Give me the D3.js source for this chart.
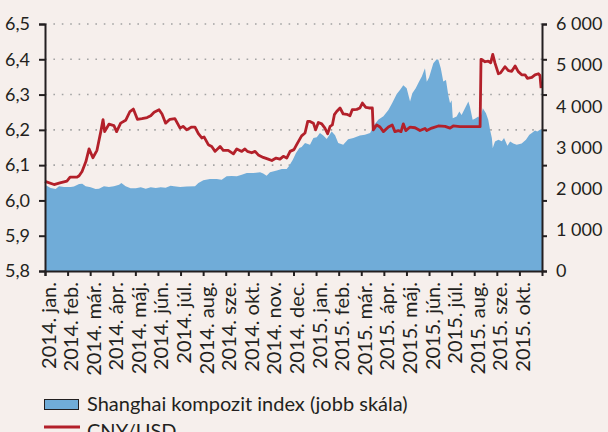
<!DOCTYPE html>
<html lang="hu">
<head>
<meta charset="UTF-8">
<title>CNY/USD és Shanghai kompozit index</title>
<script src="https://d3js.org/d3.v7.min.js"></script>
<style>
  html, body { margin: 0; padding: 0; background: #f6efec; }
  svg text { font-family: Lato, "Open Sans", sans-serif; fill: #231f20; }
  .axis path, .axis line { stroke: #231f20; stroke-width: 2; }
</style>
</head>
<body>
<svg id="chart" width="608" height="432"></svg>
<script>
// month labels (Hungarian), one per month from 2014 jan. to 2015 okt.
var monthNames = ["jan.", "feb.", "már.", "ápr.", "máj.", "jún.", "júl.", "aug.", "sze.", "okt.", "nov.", "dec."];
var monthLabels = [];
for (var i = 0; i < 22; i++) monthLabels.push((2014 + Math.floor(i / 12)) + ". " + monthNames[i % 12]);

// time is given in months since 2014 jan. 1 (0 = start of jan. 2014)
var cnyT = [0.00, 0.40, 0.66, 0.97, 1.11, 1.42, 1.51, 1.64, 1.81, 1.95, 2.12, 2.30, 2.47, 2.57, 2.64, 2.83, 3.05, 3.17, 3.35, 3.57,
  3.76, 3.91, 4.09, 4.29, 4.52, 4.68, 4.83, 5.05, 5.18, 5.34, 5.53, 5.75, 5.98, 6.11, 6.27, 6.49, 6.64, 6.79, 6.94, 7.04,
  7.23, 7.38, 7.53, 7.75, 7.89, 8.11, 8.34, 8.49, 8.71, 8.85, 8.96, 9.15, 9.30, 9.44, 9.66, 9.88, 10.04, 10.23, 10.40, 10.55,
  10.70, 10.85, 11.02, 11.14, 11.29, 11.36, 11.51, 11.63, 11.73, 11.88, 11.98, 12.10, 12.25, 12.39, 12.51, 12.62, 12.72, 12.81, 12.91, 13.06,
  13.20, 13.36, 13.50, 13.60, 13.80, 13.94, 14.05, 14.20, 14.34, 14.49, 14.53, 14.68, 14.83, 14.98, 15.20, 15.37, 15.49, 15.64, 15.76, 15.86,
  15.97, 16.16, 16.38, 16.60, 16.82, 16.90, 17.12, 17.41, 17.71, 17.93, 18.07, 18.37, 18.81, 19.26, 19.30, 19.48, 19.62, 19.73, 19.82, 19.92,
  20.07, 20.16, 20.36, 20.51, 20.66, 20.81, 20.95, 21.10, 21.25, 21.35, 21.55, 21.69, 21.84, 21.91, 21.96];
var cnyUsd = [6.054, 6.045, 6.050, 6.055, 6.066, 6.066, 6.070, 6.082, 6.110, 6.146, 6.121, 6.142, 6.195, 6.229, 6.195, 6.216, 6.212, 6.195, 6.219, 6.227,
  6.252, 6.259, 6.230, 6.232, 6.235, 6.240, 6.250, 6.257, 6.245, 6.219, 6.230, 6.232, 6.205, 6.210, 6.200, 6.208, 6.208, 6.189, 6.177, 6.180,
  6.158, 6.153, 6.139, 6.153, 6.142, 6.142, 6.132, 6.146, 6.139, 6.146, 6.139, 6.135, 6.139, 6.129, 6.122, 6.117, 6.113, 6.120, 6.117, 6.125,
  6.120, 6.139, 6.144, 6.158, 6.175, 6.183, 6.191, 6.224, 6.224, 6.219, 6.200, 6.221, 6.217, 6.205, 6.189, 6.210, 6.214, 6.243, 6.252, 6.262,
  6.245, 6.244, 6.240, 6.257, 6.258, 6.262, 6.276, 6.264, 6.262, 6.262, 6.200, 6.214, 6.208, 6.195, 6.208, 6.214, 6.195, 6.198, 6.195, 6.217,
  6.198, 6.208, 6.206, 6.198, 6.204, 6.198, 6.205, 6.211, 6.210, 6.205, 6.211, 6.209, 6.209, 6.209, 6.400, 6.393, 6.395, 6.390, 6.414, 6.389,
  6.359, 6.361, 6.379, 6.368, 6.366, 6.381, 6.365, 6.356, 6.356, 6.346, 6.349, 6.356, 6.359, 6.354, 6.318];

var shT = [0.00, 0.25, 0.47, 0.62, 0.84, 1.14, 1.28, 1.51, 1.65, 1.80, 2.02, 2.24, 2.39, 2.61, 2.83, 3.05, 3.28, 3.38, 3.57, 3.79,
  4.02, 4.24, 4.46, 4.68, 4.90, 5.12, 5.34, 5.56, 5.71, 5.98, 6.27, 6.64, 6.79, 7.01, 7.30, 7.60, 7.82, 8.04, 8.26, 8.49,
  8.71, 8.93, 9.22, 9.52, 9.66, 9.81, 9.96, 10.26, 10.48, 10.70, 10.81, 10.97, 11.11, 11.26, 11.36, 11.51, 11.73, 11.88, 12.03, 12.17,
  12.32, 12.47, 12.69, 12.84, 12.98, 13.20, 13.42, 13.65, 13.94, 14.16, 14.39, 14.58, 14.75, 14.98, 15.20, 15.37, 15.57, 15.72, 15.86, 16.01,
  16.16, 16.26, 16.41, 16.56, 16.68, 16.82, 16.90, 17.00, 17.19, 17.34, 17.41, 17.52, 17.63, 17.75, 17.85, 17.93, 18.00, 18.05, 18.22, 18.34,
  18.44, 18.59, 18.74, 18.81, 18.93, 19.03, 19.18, 19.26, 19.38, 19.52, 19.62, 19.70, 19.78, 19.82, 19.92, 20.07, 20.22, 20.32, 20.47, 20.59,
  20.73, 20.88, 21.10, 21.29, 21.44, 21.55, 21.69, 21.79, 21.91, 22.00];
var shanghai = [2097, 2017, 1993, 2056, 2041, 2041, 2050, 2113, 2120, 2056, 2033, 1993, 2000, 2056, 2041, 2056, 2097, 2137, 2056, 2008,
  2008, 2033, 2000, 2033, 2017, 2033, 2025, 2073, 2056, 2041, 2050, 2057, 2137, 2202, 2235, 2235, 2219, 2299, 2310, 2299,
  2339, 2380, 2380, 2396, 2370, 2315, 2396, 2444, 2477, 2477, 2557, 2703, 2865, 2986, 3010, 3107, 3066, 3229, 3248, 3350,
  3290, 3208, 3390, 3300, 3107, 3066, 3200, 3229, 3290, 3310, 3350, 3552, 3672, 3760, 3910, 4080, 4300, 4400, 4510, 4440,
  4116, 4320, 4440, 4601, 4722, 4925, 4600, 4700, 5047, 5144, 5130, 4925, 4601, 4640, 4278, 4077, 4150, 3713, 3752, 3874,
  3790, 3955, 4116, 3990, 3672, 3700, 3752, 3680, 3955, 3834, 3672, 3430, 3229, 2986, 3147, 3188, 3150, 3229, 3042, 3147,
  3100, 3066, 3100, 3188, 3310, 3350, 3413, 3390, 3430, 3430];

var leftTicks = [5.8, 5.9, 6.0, 6.1, 6.2, 6.3, 6.4, 6.5];
var rightTicks = [0, 1000, 2000, 3000, 4000, 5000, 6000];

var svg = d3.select("#chart");
var plotL = 45, plotR = 542, plotT = 24, plotB = 271;

var x = d3.scaleLinear().domain([0, 22]).range([plotL, plotR]);
var yL = d3.scaleLinear().domain([5.8, 6.5]).range([plotB, plotT]);
var yR = d3.scaleLinear().domain([0, 6000]).range([plotB, plotT]);

// dotted gridlines
svg.append("g").selectAll("line")
  .data(leftTicks.slice(1))
  .join("line")
  .attr("x1", plotL).attr("x2", plotR)
  .attr("y1", d => yL(d)).attr("y2", d => yL(d))
  .attr("stroke", "#a3a3a3")
  .attr("stroke-width", 1.6)
  .attr("stroke-dasharray", "1.6,6.8");

// Shanghai area (right scale)
var shData = shT.map((t, i) => ({ t: t, v: shanghai[i] }));
svg.append("path")
  .datum(shData)
  .attr("fill", "#70acd8")
  .attr("d", d3.area().x(d => x(d.t)).y0(plotB).y1(d => yR(d.v)));

// CNY/USD line (left scale)
var cnyData = cnyT.map((t, i) => ({ t: t, v: cnyUsd[i] }));
svg.append("path")
  .datum(cnyData)
  .attr("fill", "none")
  .attr("stroke", "#b3202a")
  .attr("stroke-width", 2.8)
  .attr("stroke-linejoin", "round")
  .attr("d", d3.line().x(d => x(d.t)).y(d => yL(d.v)));

var commaFmt = d => d3.format(".1f")(d).replace(".", ",");
var spaceFmt = d => d3.format(",")(d).replace(/,/g, "\u00a0");

// left axis
var gL = svg.append("g").attr("class", "axis")
  .attr("transform", "translate(" + plotL + ",0)")
  .call(d3.axisLeft(yL).tickValues(leftTicks).tickFormat(commaFmt).tickSizeOuter(0).tickSize(6).tickPadding(9));
gL.selectAll("text").style("font-size", "18px");

// right axis: tick marks at the gridlines, labels on the index scale
svg.append("g").attr("class", "axis")
  .attr("transform", "translate(" + plotR + ",0)")
  .call(d3.axisRight(yL).tickValues(leftTicks).tickFormat("").tickSizeOuter(0).tickSize(5));
var gR = svg.append("g")
  .attr("transform", "translate(" + plotR + ",0)")
  .call(d3.axisRight(yR).tickValues(rightTicks).tickFormat(spaceFmt).tickSize(0).tickPadding(14));
gR.select(".domain").remove();
gR.selectAll("text").style("font-size", "18px");

// bottom axis with rotated month labels
var gX = svg.append("g").attr("class", "axis")
  .attr("transform", "translate(0," + plotB + ")")
  .call(d3.axisBottom(x).tickValues(d3.range(22)).tickFormat(i => monthLabels[i]).tickSizeOuter(0).tickSize(5));
gX.selectAll("text")
  .style("font-size", "20px")
  .attr("text-anchor", "end")
  .attr("transform", "rotate(-90)")
  .attr("x", -11)
  .attr("y", 3)
  .attr("dy", "0.35em");

// legend
var leg = svg.append("g");
leg.append("rect").attr("x", 44.5).attr("y", 399.5).attr("width", 34).attr("height", 10)
  .attr("fill", "#70acd8").attr("stroke", "#231f20").attr("stroke-width", 1);
leg.append("text").attr("x", 87).attr("y", 411).style("font-size", "20px")
  .text("Shanghai kompozit index (jobb skála)");
leg.append("line").attr("x1", 44).attr("x2", 80).attr("y1", 427).attr("y2", 427)
  .attr("stroke", "#b3202a").attr("stroke-width", 3);
leg.append("text").attr("x", 87).attr("y", 438).style("font-size", "20px").text("CNY/USD");
</script>
</body>
</html>
